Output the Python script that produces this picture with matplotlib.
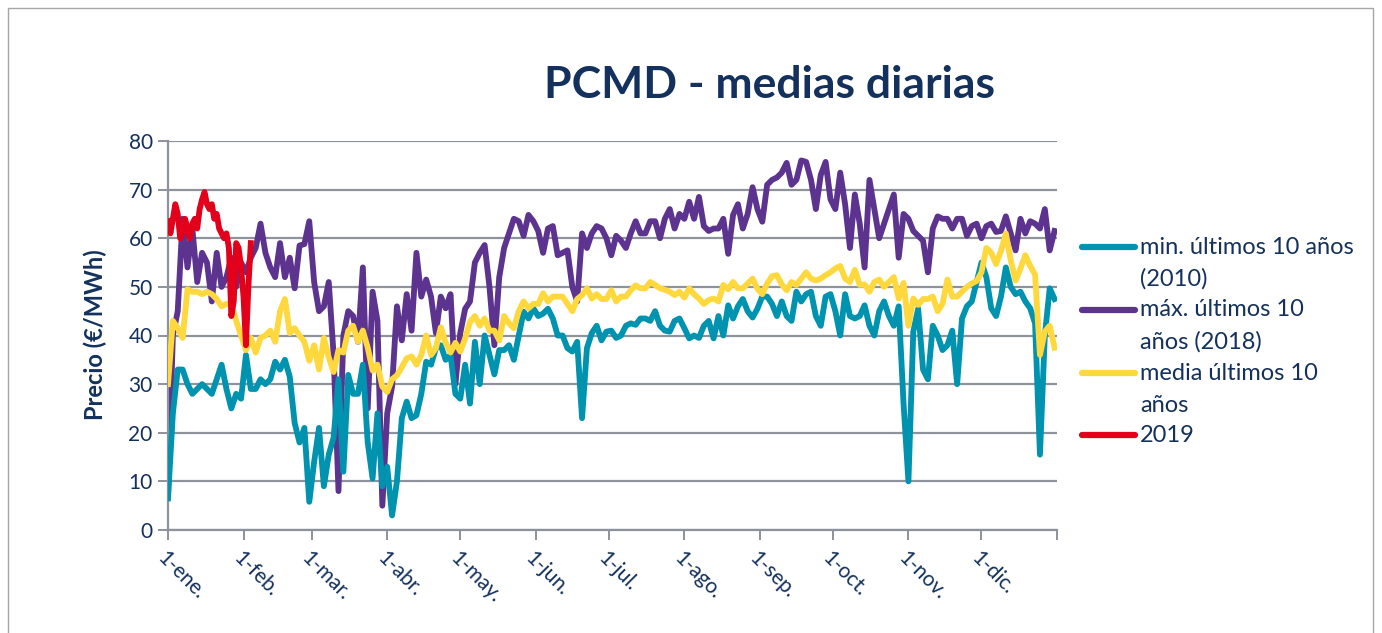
import numpy as np
import matplotlib
matplotlib.use("Agg")
from matplotlib import pyplot as plt
from matplotlib.lines import Line2D
from matplotlib.patches import Rectangle

plt.rcParams['font.family'] = ['Lato', 'DejaVu Sans']

NAVY = '#13315C'
GRID = '#8E929B'

# daily series sampled every 2 days (day of year 0..364)
days = np.arange(0, 365, 2)

min_2010 = [6.5, 24, 33, 33, 30, 28, 29, 30, 29, 28, 31, 34, 29, 25, 28, 27, 36, 29, 29, 31, 30, 31,
            34.6, 33, 35, 31.5, 22, 18, 21, 5.8, 14, 21, 9, 15.5, 19, 31, 12, 31.9, 28, 28, 34, 18, 10.6, 24, 9,
            13, 3, 10, 23, 26.4, 23, 23.6, 28, 34.6, 34, 37.4, 38, 35, 36, 28, 27, 34, 26, 38.7, 30, 40, 36,
            32, 37, 37, 38, 35, 40, 44.9, 43.5, 45.6, 44, 44.5, 45.5, 43.5, 40, 40, 37.4, 36.7, 38.7, 23, 37.4, 40.5, 42,
            39, 40.8, 41, 39.5, 40, 42, 42.5, 42.2, 43.5, 43.5, 43, 45, 42, 41, 40.8, 43, 43.5, 41.5, 39.4, 40, 39.5, 42, 43,
            39.4, 44, 40, 46.2, 43.5, 46, 47.5, 45, 43.7, 45.5, 48, 48, 46.5, 44, 47, 44, 43, 49, 47, 48.5, 49, 44, 42,
            48, 48.5, 45, 40, 48.5, 44, 43.5, 44, 46.2, 42, 40, 45, 47, 44, 42, 46, 26, 10, 40.8, 45.5, 33, 31,
            42, 40, 37, 38, 41, 30, 43.5, 46, 47, 51, 55, 52, 45.6, 44, 48, 54, 50, 48.5, 49, 47, 45.6, 42.5, 15.5, 40, 49.7, 47.5]

max_2018 = [7, 40, 45, 64, 54, 62, 51, 57, 55, 47, 57, 50, 52, 56, 50, 55, 53, 56, 58, 63, 57, 54,
            52, 59, 52, 56, 49.7, 58.5, 58.8, 63.5, 51, 45, 46, 51, 36, 8, 40, 45, 44, 38.7, 54, 25, 49, 43, 5,
            24, 29.5, 46, 39, 48.5, 41, 57, 48, 51.5, 48, 40.5, 48, 45.6, 48.5, 30, 40.5, 45.5, 47, 55, 57, 58.6, 50,
            38, 52, 58, 61, 64, 63.5, 60.5, 64.8, 63.5, 61.5, 57, 62, 62.5, 56.5, 57, 57.5, 50, 47, 61, 58, 61, 62.5,
            62, 60, 56.5, 60.5, 59.5, 58, 61, 63.5, 61, 61, 63.5, 63.5, 60, 64, 66, 62, 65, 64, 67.5, 64, 68.5, 62.5, 61.5,
            62, 62, 64, 56.8, 64.8, 67, 62, 65, 70.5, 66, 63.4, 71, 72, 72.5, 73.5, 75.5, 71, 72, 76, 75.7, 72, 66, 73,
            75.7, 68, 66, 73.5, 67, 58, 69, 63, 54, 72, 66, 60, 63, 66, 69, 56, 65, 64, 61.5, 60.5, 59.5, 53,
            62, 64.5, 64, 64, 62, 64, 64, 60.5, 62.5, 63, 60, 62.5, 63, 61.3, 61.5, 64.5, 61, 57.5, 64, 61, 63.5, 63, 62, 66, 57.5, 61.5]

media_10 = [30, 43, 41.5, 39.5, 49.5, 49, 49, 48.5, 49, 48.5, 47.5, 46, 46.5, 46.5, 43, 40, 37, 39.5, 36.5, 39.5, 40, 41,
            38.7, 45, 47.5, 40.5, 41.5, 40, 38.7, 34.8, 38, 33, 39.5, 35.5, 32.5, 37, 36.5, 41, 42, 38.7, 41, 37.5, 32.8, 34, 29.5,
            28.4, 31, 31.8, 33.5, 35.3, 35.7, 34, 36, 40, 36, 37.4, 41.7, 38.5, 36.5, 38.5, 36.7, 39.4, 42.8, 44, 42, 43.5, 41,
            41, 39, 44, 42.5, 41.5, 45, 47, 45.6, 46.5, 46.5, 48.7, 47, 48, 48, 48, 46.5, 45, 47.5, 48.3, 49.7, 47.6, 48.5,
            47.5, 47.5, 49.3, 47, 48, 48, 49.3, 50.3, 49.7, 49.7, 51, 50.4, 49.7, 49.4, 49, 48.3, 49, 47.8, 49.7, 48.5, 47.6, 46.5, 47.3,
            47.6, 47, 50.4, 49.5, 51, 49.7, 49.7, 50.7, 51.7, 49.6, 48.5, 50.7, 52.2, 52.4, 50.5, 49.3, 51, 50.4, 51.7, 53, 51.7, 51.3, 51.7,
            52.4, 53, 53.8, 54.3, 51.7, 51, 53.5, 50.4, 50.5, 49, 51, 51.5, 50, 51, 52, 47.6, 50.8, 42, 47.6, 46.3, 47.5, 47.5,
            48, 45, 46.5, 51.5, 48, 48, 49, 50, 50.7, 51.2, 53, 58, 57, 54.7, 57.4, 61, 55.5, 51.3, 53.8, 56.5, 54.3, 52.5, 36, 40.8, 42, 37.5]

# 2019, daily, first days of the year
days_2019 = np.arange(35)
y2019 = [63.5, 61, 64, 67, 65, 60, 61, 64, 62, 60, 63, 64, 62, 66, 68, 69.5, 67, 66, 67, 64,
         65, 62, 61, 60, 61, 58, 44, 47, 59, 58, 54, 48, 38, 50, 59]

month_starts = [0, 31, 59, 90, 120, 151, 181, 212, 243, 273, 304, 334]
month_labels = ['1-ene.', '1-feb.', '1-mar.', '1-abr.', '1-may.', '1-jun.',
                '1-jul.', '1-ago.', '1-sep.', '1-oct.', '1-nov.', '1-dic.']

series = [
    ('min. últimos 10 años\n(2010)', '#0093AF', days, min_2010, 3),
    ('máx. últimos 10\naños (2018)', '#5C338E', days, max_2018, 2),
    ('media últimos 10\naños', '#FFD83D', days, media_10, 4),
    ('2019', '#E3001B', days_2019, y2019, 5),
]

fig = plt.figure(figsize=(13.82, 6.33), dpi=100)
ax = fig.add_axes([168 / 1382, 1 - 530 / 633, (1057 - 168) / 1382, (530 - 141) / 633])

for label, color, x, y, z in series:
    ax.plot(x, y, color=color, lw=4.2, zorder=z, solid_joinstyle='round')

ax.set_xlim(0, 365)
ax.set_ylim(0, 80)
ax.set_yticks(range(0, 81, 10))
ax.set_xticks(month_starts + [365])
ax.set_xticklabels(month_labels + [''], rotation=-45, ha='left', va='top',
                   rotation_mode='anchor', color=NAVY, fontsize=15)
for t in ax.get_yticklabels():
    t.set_color(NAVY)
    t.set_fontsize(15)
ax.grid(axis='y', color=GRID, lw=1.6, zorder=0)
ax.tick_params(axis='both', direction='out', length=7, width=1.4, color=GRID)
ax.tick_params(axis='x', pad=6)
ax.tick_params(axis='y', pad=4)
for s in ['top', 'right']:
    ax.spines[s].set_visible(False)
for s in ['left', 'bottom']:
    ax.spines[s].set_color(GRID)
    ax.spines[s].set_linewidth(1.6)

fig.text(770 / 1382, 1 - 85 / 633, 'PCMD - medias diarias', ha='center', va='center',
         fontsize=32, fontweight='bold', color=NAVY)
fig.text(95 / 1382, 1 - 335 / 633, 'Precio (€/MWh)', ha='center', va='center',
         rotation=90, fontsize=17, fontweight='bold', color=NAVY)

# legend drawn by hand so the handle sits on the first text line
row_px = [247, 310, 373, 435]
for (label, color, x, y, z), yp in zip(series, row_px):
    yf = 1 - yp / 633
    fig.add_artist(Line2D([1082 / 1382, 1135 / 1382], [yf, yf], color=color, lw=4.5,
                          solid_capstyle='round', transform=fig.transFigure))
    for i, line in enumerate(label.split('\n')):
        fig.text(1140 / 1382, 1 - (yp + i * 32) / 633, line, ha='left', va='center',
                 fontsize=17, color=NAVY)

fig.add_artist(Rectangle((8 / 1382, -0.1), 1365 / 1382, 1 - 8 / 633 + 0.1, fill=False,
                         edgecolor='#A6A6A6', lw=1, transform=fig.transFigure))

fig.savefig('out.png', dpi=100)
